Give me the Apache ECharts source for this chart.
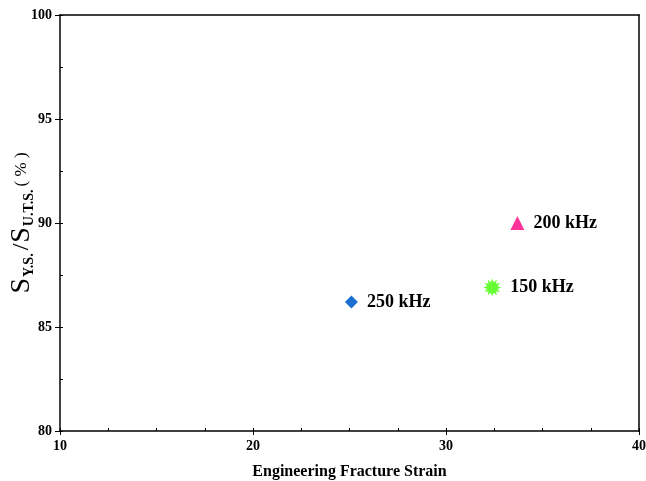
<!DOCTYPE html>
<html><head><meta charset="utf-8">
<script src="https://cdn.jsdelivr.net/npm/echarts@6/dist/echarts.min.js"></script>
<style>html,body{margin:0;padding:0;background:#fff}#c{width:646px;height:481px}</style>
</head><body><div id="c"></div>
<script>
var labels = ['250 kHz', '200 kHz', '150 kHz'];
var strain = [25.1, 33.7, 32.4];
var ratio = [86.2, 90.0, 86.9];
var colors = ['#1a6fd0', '#ff3399', '#66ff33'];
var symbols = ['diamond', 'triangle', 'star'];
var xTicks = [10, 20, 30, 40];
var yTicks = [80, 85, 90, 95, 100];

function starPath(n) {
  var p = [];
  for (var i = 0; i < 2 * n; i++) {
    var r = i % 2 === 0 ? 10 : 6;
    var a = Math.PI * i / n;
    p.push((i ? 'L' : 'M') + (r * Math.sin(a)).toFixed(2) + ' ' + (-r * Math.cos(a)).toFixed(2));
  }
  return 'path://' + p.join(' ') + ' Z';
}
var symMap = { diamond: 'diamond', triangle: 'triangle', star: starPath(12) };
var sizes = { diamond: 13, triangle: 14, star: 18 };

var font = '"Liberation Serif","Times New Roman",serif';
var chart = echarts.init(document.getElementById('c'));
var series = labels.map(function (l, i) {
  return {
    type: 'scatter', name: l,
    data: [[strain[i], ratio[i]]],
    symbol: symMap[symbols[i]], symbolSize: sizes[symbols[i]],
    itemStyle: { color: colors[i], opacity: 1 },
    label: { show: true, formatter: l, position: 'right', distance: 9,
      color: '#000', fontFamily: font, fontWeight: 'bold', fontSize: 18 }
  };
});
var axLine = { show: true, lineStyle: { color: '#000', width: 1.5 } };
var lab = { color: '#000', fontFamily: font, fontWeight: 'bold', fontSize: 14 };
chart.setOption({
  animation: false,
  grid: { left: 60, right: 7, top: 15, bottom: 50, containLabel: false, outerBoundsMode: 'none' },
  xAxis: [
    { type: 'value', min: xTicks[0], max: xTicks[xTicks.length - 1], interval: 10, position: 'bottom',
      axisLine: axLine, axisTick: { show: true, length: 4, lineStyle: { color: '#000' } },
      axisLabel: lab, splitLine: { show: false }, nameMoveOverlap: false,
      name: 'Engineering Fracture Strain', nameLocation: 'middle', nameGap: 33,
      nameTextStyle: { color: '#000', fontFamily: font, fontWeight: 'bold', fontSize: 16 } },
    { type: 'value', min: 10, max: 40, interval: 2.5, position: 'bottom',
      axisLine: { show: false }, axisTick: { show: true, inside: true, length: 3, lineStyle: { color: '#000' } },
      axisLabel: { show: false }, splitLine: { show: false } },
    { type: 'value', min: 10, max: 40, position: 'top',
      axisLine: axLine, axisTick: { show: false }, axisLabel: { show: false }, splitLine: { show: false } }
  ],
  yAxis: [
    { type: 'value', min: yTicks[0], max: yTicks[yTicks.length - 1], interval: 5, position: 'left',
      axisLine: axLine, axisTick: { show: true, length: 5, lineStyle: { color: '#000' } },
      axisLabel: lab, splitLine: { show: false }, nameMoveOverlap: false,
      name: '{s|S}{sub|Y.S.}{sl|/}{s|S}{sub|U.T.S.}{p|( % )}', nameLocation: 'middle', nameGap: 24, nameRotate: 90,
      nameTextStyle: { color: '#000', fontFamily: font,
        rich: { s: { fontSize: 28, fontFamily: font, color: '#000' },
          sl: { fontSize: 24, fontFamily: font, color: '#000', padding: [0, 1, 0, 3] },
          sub: { fontSize: 14, fontFamily: font, fontWeight: 'bold', color: '#000', verticalAlign: 'bottom', padding: [8, 0, 0, 1] },
          p: { fontSize: 17, fontFamily: font, color: '#000', padding: [0, 0, 0, 3] } } } },
    { type: 'value', min: 80, max: 100, interval: 2.5, position: 'left',
      axisLine: { show: false }, axisTick: { show: true, inside: true, length: 3, lineStyle: { color: '#000' } },
      axisLabel: { show: false }, splitLine: { show: false } },
    { type: 'value', min: 80, max: 100, position: 'right',
      axisLine: axLine, axisTick: { show: false }, axisLabel: { show: false }, splitLine: { show: false } }
  ],
  series: series
});
</script></body></html>
